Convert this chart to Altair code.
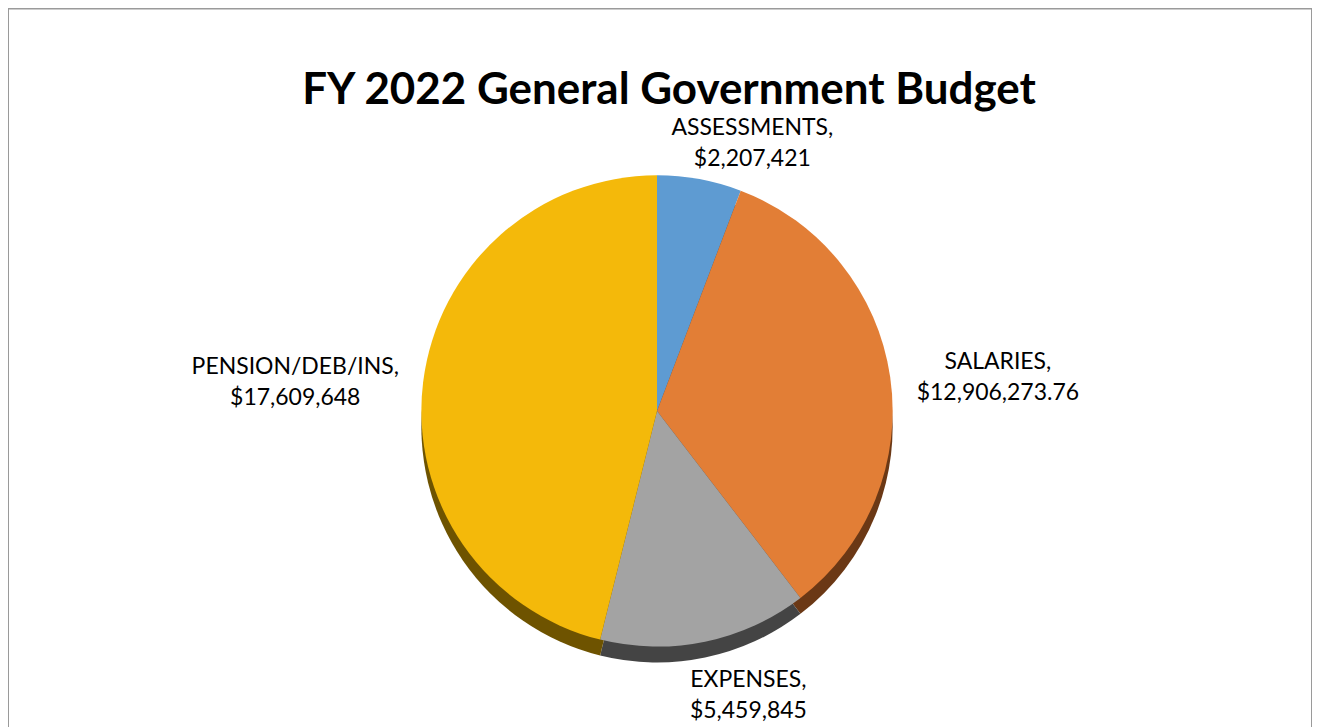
import altair as alt
import pandas as pd

categories = ["ASSESSMENTS", "SALARIES", "EXPENSES", "PENSION/DEB/INS"]
values = [2207421, 12906273.76, 5459845, 17609648]
value_labels = ["$2,207,421", "$12,906,273.76", "$5,459,845", "$17,609,648"]
colors = ["#5E9BD2", "#E27E36", "#A3A3A3", "#F4B90A"]
side_colors = ["#2F4F6B", "#6B3815", "#444444", "#6E5300"]

df = pd.DataFrame({
    "category": categories,
    "value": values,
    "order": list(range(len(categories))),
    "label": [[c + ",", v] for c, v in zip(categories, value_labels)],
})

FONT = "Lato"
CX, CY, R, DEPTH = 650, 403, 236, 16

base = alt.Chart(df)

side = base.mark_arc(radius=R, stroke=None).encode(
    theta=alt.Theta("value:Q", stack=True),
    order=alt.Order("order:Q"),
    color=alt.Color("category:N", scale=alt.Scale(domain=categories, range=side_colors), legend=None),
    x=alt.value(CX), y=alt.value(CY + DEPTH),
)

top = base.mark_arc(radius=R, stroke=None).encode(
    theta=alt.Theta("value:Q", stack=True),
    order=alt.Order("order:Q"),
    fill=alt.Fill("category:N", scale=alt.Scale(domain=categories, range=colors), legend=None),
    x=alt.value(CX), y=alt.value(CY),
)

offsets = {
    "ASSESSMENTS": (285, 44, -3),
    "SALARIES": (340, 5, 0),
    "EXPENSES": (292, 32, -16),
    "PENSION/DEB/INS": (362, -3, 0),
}

layers = [side, top]
for cat, (rad, dx, dy) in offsets.items():
    t = base.transform_window(
        cum="sum(value)", sort=[alt.SortField("order")]
    ).transform_calculate(
        mid="datum.cum - datum.value / 2"
    ).transform_filter(
        alt.datum.category == cat
    ).mark_text(
        font=FONT, fontSize=23, color="#000000", align="center", baseline="middle",
        lineHeight=31, radius=rad, dx=dx, dy=dy,
    ).encode(
        theta=alt.Theta("mid:Q"),
        text="label",
        x=alt.value(CX), y=alt.value(CY),
    )
    layers.append(t)

chart = alt.layer(*layers).properties(
    width=1306, height=740,
    autosize=alt.AutoSizeParams(type="none"),
    padding=0,
    title=alt.TitleParams(
        "FY 2022 General Government Budget",
        font=FONT, fontSize=44, fontWeight="bold", color="#000000",
        anchor="middle", dy=109, dx=9,
    ),
).configure_view(stroke="#9A9A9A", strokeWidth=2)

chart.save("out.html", embed_options={"renderer": "svg", "actions": False})
